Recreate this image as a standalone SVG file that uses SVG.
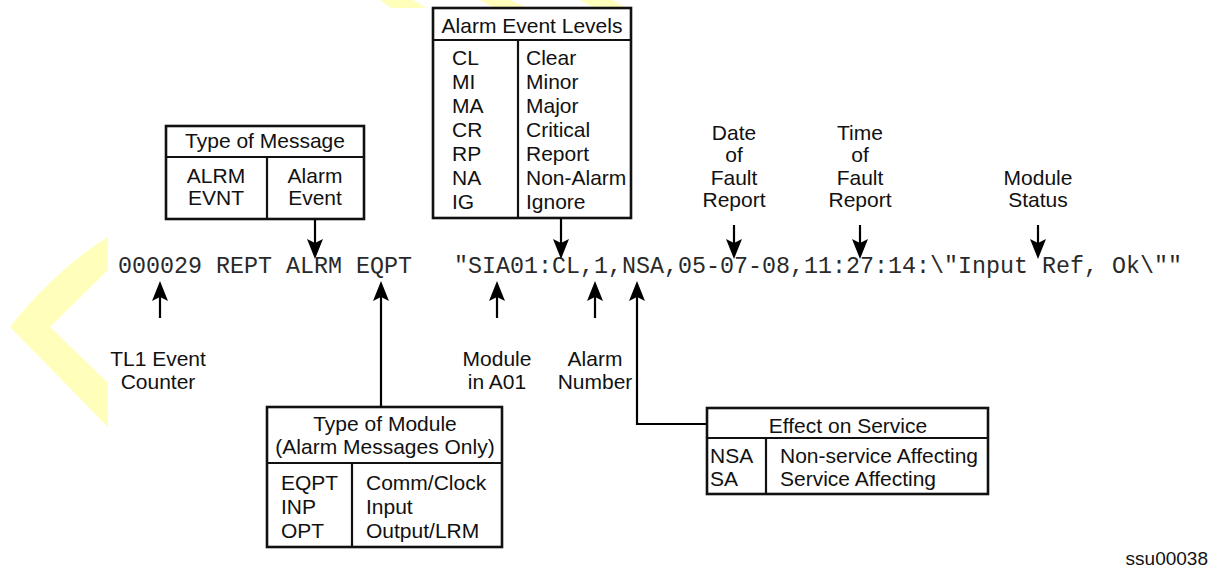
<svg xmlns="http://www.w3.org/2000/svg" width="1214" height="573" viewBox="0 0 1214 573">
  <style>
    .sans { font-family: "Liberation Sans", Arial, sans-serif; font-size: 21px; fill: #111; }
    .mid { text-anchor: middle; }
    .mono { font-family: "Liberation Mono", "Courier New", monospace; font-size: 23.33px; fill: #2a2a2a; }
    .box { fill: #fff; stroke: #111; stroke-width: 2.6; }
    .div { fill: none; stroke: #111; stroke-width: 2.2; }
    .wire { fill: none; stroke: #000; stroke-width: 2.2; }
    .deco { fill: #ffffbb; stroke: none; }
  </style>
  <defs>
    <marker id="head" viewBox="0 0 20 16" refX="8" refY="8" markerWidth="20" markerHeight="16" markerUnits="userSpaceOnUse" orient="auto">
      <path d="M0,0 L20,8 L0,16 L4,8 Z" fill="#000"/>
    </marker>
  </defs>
  <rect width="1214" height="573" fill="#fff"/>

  <!-- decorative background marks -->
  <g id="decor">
    <path class="deco" d="M10,327 Q55,270 108,237 L108,270 L50,327 L108,383 L108,427 Z"/>
    <polygon class="deco" points="380,0 413,0 426,8 391,8"/>
    <polygon class="deco" points="480,0 510,0 527,8 494,8"/>
    <polygon class="deco" points="580,0 612,0 626,8 594,8"/>
  </g>

  <!-- the TL1 message line -->
  <g id="message">
    <text class="mono" x="118" y="273" xml:space="preserve">000029 REPT ALRM EQPT   "SIA01:CL,1,NSA,05-07-08,11:27:14:\"Input Ref, Ok\""</text>
  </g>

  <g id="type-of-message">
    <rect class="box" x="166" y="126" width="198" height="93"/>
    <line class="div" x1="166" y1="157" x2="364" y2="157"/>
    <line class="div" x1="267" y1="157" x2="267" y2="219"/>
    <text class="sans mid" x="265" y="148">Type of Message</text>
    <text class="sans mid" x="216" y="183">ALRM</text>
    <text class="sans mid" x="216" y="205">EVNT</text>
    <text class="sans mid" x="315" y="183">Alarm</text>
    <text class="sans mid" x="315" y="205">Event</text>
  </g>

  <g id="alarm-event-levels">
    <rect class="box" x="433" y="8" width="198" height="210"/>
    <line class="div" x1="433" y1="40" x2="631" y2="40"/>
    <line class="div" x1="518" y1="40" x2="518" y2="218"/>
    <text class="sans mid" x="532" y="33">Alarm Event Levels</text>
    <text class="sans" x="452" y="65">CL</text>
    <text class="sans" x="452" y="89">MI</text>
    <text class="sans" x="452" y="113">MA</text>
    <text class="sans" x="452" y="137">CR</text>
    <text class="sans" x="452" y="161">RP</text>
    <text class="sans" x="452" y="185">NA</text>
    <text class="sans" x="452" y="209">IG</text>
    <text class="sans" x="526" y="65">Clear</text>
    <text class="sans" x="526" y="89">Minor</text>
    <text class="sans" x="526" y="113">Major</text>
    <text class="sans" x="526" y="137">Critical</text>
    <text class="sans" x="526" y="161">Report</text>
    <text class="sans" x="526" y="185">Non-Alarm</text>
    <text class="sans" x="526" y="209">Ignore</text>
  </g>

  <g id="date-label">
    <text class="sans mid" x="734" y="140">Date</text>
    <text class="sans mid" x="734" y="162">of</text>
    <text class="sans mid" x="734" y="185">Fault</text>
    <text class="sans mid" x="734" y="207">Report</text>
  </g>

  <g id="time-label">
    <text class="sans mid" x="860" y="140">Time</text>
    <text class="sans mid" x="860" y="162">of</text>
    <text class="sans mid" x="860" y="185">Fault</text>
    <text class="sans mid" x="860" y="207">Report</text>
  </g>

  <g id="status-label">
    <text class="sans mid" x="1038" y="185">Module</text>
    <text class="sans mid" x="1038" y="207">Status</text>
  </g>

  <g id="counter-label">
    <text class="sans mid" x="158" y="366">TL1 Event</text>
    <text class="sans mid" x="158" y="389">Counter</text>
  </g>

  <g id="module-label">
    <text class="sans mid" x="497" y="366">Module</text>
    <text class="sans mid" x="497" y="389">in A01</text>
  </g>

  <g id="number-label">
    <text class="sans mid" x="595" y="366">Alarm</text>
    <text class="sans mid" x="595" y="389">Number</text>
  </g>

  <g id="type-of-module">
    <rect class="box" x="267" y="407" width="235" height="140"/>
    <line class="div" x1="267" y1="463" x2="502" y2="463"/>
    <line class="div" x1="352" y1="463" x2="352" y2="547"/>
    <text class="sans mid" x="385" y="431">Type of Module</text>
    <text class="sans mid" x="385" y="454">(Alarm Messages Only)</text>
    <text class="sans" x="281" y="490">EQPT</text>
    <text class="sans" x="281" y="514">INP</text>
    <text class="sans" x="281" y="538">OPT</text>
    <text class="sans" x="366" y="490">Comm/Clock</text>
    <text class="sans" x="366" y="514">Input</text>
    <text class="sans" x="366" y="538">Output/LRM</text>
  </g>

  <g id="effect-on-service">
    <rect class="box" x="707" y="408" width="281" height="86"/>
    <line class="div" x1="707" y1="438" x2="988" y2="438"/>
    <line class="div" x1="766" y1="438" x2="766" y2="494"/>
    <text class="sans mid" x="848" y="433">Effect on Service</text>
    <text class="sans" x="710" y="463">NSA</text>
    <text class="sans" x="710" y="486">SA</text>
    <text class="sans" x="780" y="463">Non-service Affecting</text>
    <text class="sans" x="780" y="486">Service Affecting</text>
  </g>

  <g id="connectors">
    <!-- pointers down onto the message line -->
    <path class="wire" d="M315,219 V247" marker-end="url(#head)"/>
    <path class="wire" d="M561,218 V247" marker-end="url(#head)"/>
    <path class="wire" d="M734,225 V247" marker-end="url(#head)"/>
    <path class="wire" d="M860,225 V247" marker-end="url(#head)"/>
    <path class="wire" d="M1038,225 V247" marker-end="url(#head)"/>
    <!-- pointers up from the labels below -->
    <path class="wire" d="M160,318 V293" marker-end="url(#head)"/>
    <path class="wire" d="M497,318 V293" marker-end="url(#head)"/>
    <path class="wire" d="M595,318 V293" marker-end="url(#head)"/>
    <path class="wire" d="M381,407 V293" marker-end="url(#head)"/>
    <path class="wire" d="M707,424 H637 V293" marker-end="url(#head)"/>
  </g>

  <text class="sans" x="1208" y="565" text-anchor="end" style="font-size:19px">ssu00038</text>
</svg>
